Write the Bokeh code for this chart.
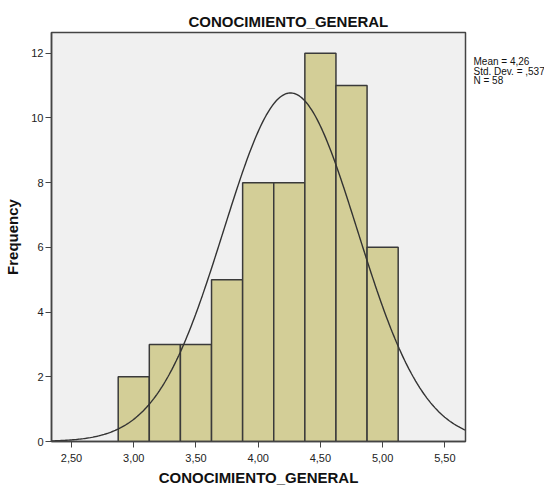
import numpy as np
from bokeh.plotting import figure
from bokeh.layouts import row
from bokeh.models import FixedTicker, CustomJSTickFormatter, Title, Range1d
from bokeh.core.properties import value
from bokeh.embed import file_html
from bokeh.resources import INLINE

# data
bin_left = [2.875, 3.125, 3.375, 3.625, 3.875, 4.125, 4.375, 4.625, 4.875]
bin_width = 0.25
counts = [2, 3, 3, 5, 8, 8, 12, 11, 6]
mean = 4.26
std = 0.537
n = 58
x_ticks = [2.5, 3.0, 3.5, 4.0, 4.5, 5.0, 5.5]
y_ticks = [0, 2, 4, 6, 8, 10, 12]
stats_lines = ["Mean = 4,26", "Std. Dev. = ,537", "N = 58"]
stats_y = [11.74, 11.45, 11.16]
title_text = "CONOCIMIENTO_GENERAL"

FONT = "Liberation Sans"
Y_RANGE = (0, 12.64)
FH = 409

p = figure(frame_width=414, frame_height=FH, x_range=(2.339, 5.666), y_range=Y_RANGE,
           output_backend="svg", toolbar_location=None,
           min_border_left=51, min_border_top=32, min_border_right=5, min_border_bottom=46,
           background_fill_color="#F0F0F0", border_fill_color="white")
p.outline_line_color = "#444444"
p.outline_line_width = 1.5
p.xgrid.visible = False
p.ygrid.visible = False

lefts = np.array(bin_left)
p.quad(left=lefts, right=lefts + bin_width, bottom=0, top=counts,
       fill_color="#D3CE97", line_color="#3a3a3a", line_width=1.5)

xs = np.linspace(2.339, 5.666, 300)
ys = n * bin_width / (std * np.sqrt(2 * np.pi)) * np.exp(-0.5 * ((xs - mean) / std) ** 2)
p.line(xs, ys, line_color="#333333", line_width=1.4)

for ax in (p.xaxis[0], p.yaxis[0]):
    ax.axis_line_color = "#444444"
    ax.axis_line_width = 1.5
    ax.major_tick_line_color = "#444444"
    ax.major_tick_line_width = 1
    ax.major_tick_out = 6
    ax.major_tick_in = 0
    ax.minor_tick_line_color = None
    ax.major_label_text_font = FONT
    ax.major_label_text_font_size = "11px"
    ax.major_label_text_color = "#222222"
    ax.axis_label_text_font = FONT
    ax.axis_label_text_font_style = "bold"
    ax.axis_label_text_font_size = "15px"
    ax.axis_label_text_color = "#111111"

p.xaxis.ticker = FixedTicker(ticks=x_ticks)
p.yaxis.ticker = FixedTicker(ticks=y_ticks)
p.xaxis.formatter = CustomJSTickFormatter(code="return tick.toFixed(2).replace('.', ',');")
p.xaxis.axis_label = title_text
p.yaxis.axis_label = "Frequency"
p.xaxis.major_label_standoff = 6
p.yaxis.major_label_standoff = 2
p.xaxis.axis_label_standoff = 4
p.yaxis.axis_label_standoff = 7

# chart title
p.add_layout(Title(text=title_text, align="left", offset=137, text_font=FONT,
                   text_font_style="bold", text_font_size="15px", text_color="#111111",
                   standoff=5), "above")

# stats panel (its frame is aligned with the main frame, so share the y scale)
s = figure(frame_width=74, frame_height=FH, x_range=Range1d(0, 74), y_range=Y_RANGE,
           output_backend="svg", toolbar_location=None, min_border=0)
s.axis.visible = False
s.grid.visible = False
s.outline_line_color = None
s.text(x=[3] * len(stats_lines), y=stats_y,
       text=stats_lines, text_font=value(FONT), text_font_size="10px",
       text_color="#111111", text_align="left", text_baseline="middle")

layout = row(p, s, spacing=0)
open("out.html", "w").write(file_html(layout, INLINE))
